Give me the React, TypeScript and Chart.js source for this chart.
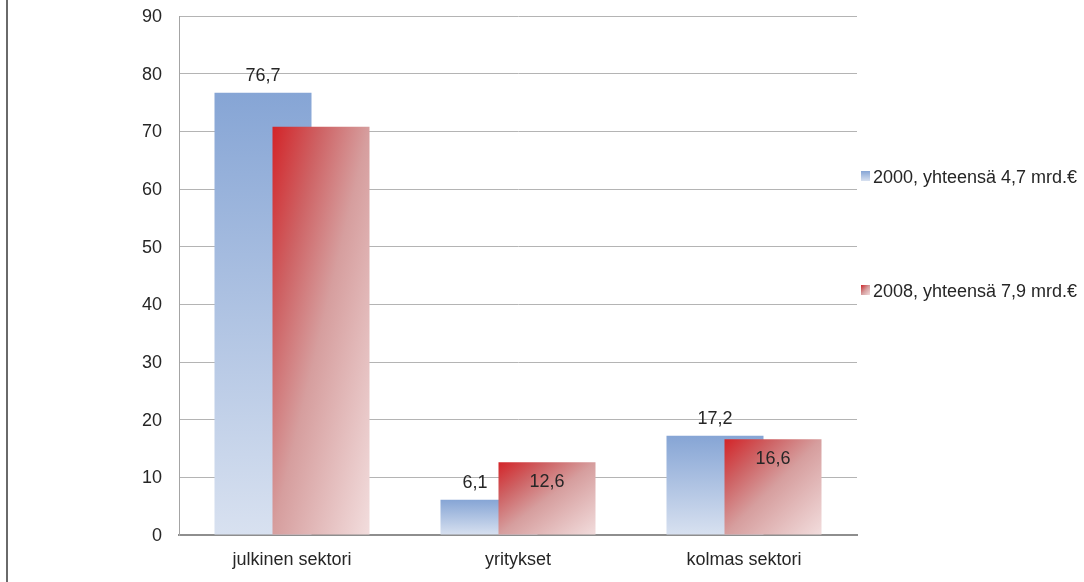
import React, { useEffect, useRef } from "react";
import { Chart, registerables } from "chart.js";

Chart.register(...registerables);

const categories = ["julkinen sektori", "yritykset", "kolmas sektori"];
const seriesNames = ["2000, yhteensä 4,7 mrd.€", "2008, yhteensä 7,9 mrd.€"];
const values2000 = [76.7, 6.1, 17.2];
const values2008 = [70.8, 12.6, 16.6];
const labels2000 = ["76,7", "6,1", "17,2"];
const labels2008 = [null, "12,6", "16,6"];
const yTicks = [0, 10, 20, 30, 40, 50, 60, 70, 80, 90];

const FONT = '"Liberation Sans", Arial, Helvetica, sans-serif';
const TEXT = "#262626";

function blueGradient(c: CanvasRenderingContext2D, top: number, bottom: number) {
  const g = c.createLinearGradient(0, top, 0, bottom);
  g.addColorStop(0, "rgb(134,165,213)");
  g.addColorStop(1, "rgb(216,225,240)");
  return g;
}

function redGradient(c: CanvasRenderingContext2D, x0: number, y0: number, w: number, h: number) {
  const k = (2 * w * h) / (h * h + w * w || 1);
  const g = c.createLinearGradient(x0, y0, x0 + h * k, y0 + w * k);
  g.addColorStop(0, "rgb(211,36,40)");
  g.addColorStop(0.25, "rgb(206,98,100)");
  g.addColorStop(0.5, "rgb(214,158,158)");
  g.addColorStop(1, "rgb(242,221,221)");
  return g;
}

const CAT_PCT = 116 / 226;
const BAR_PCT = 97 / 58;

function barGeom(chart: any, dsIndex: number, dataIndex: number, value: number) {
  const xs = chart.scales.x;
  const ys = chart.scales.y;
  const catW = xs.width / categories.length;
  const slot = (catW * CAT_PCT) / 2;
  const center = xs.getPixelForValue(dataIndex) - slot + slot * dsIndex + slot / 2;
  const w = slot * BAR_PCT;
  const top = ys.getPixelForValue(value);
  const base = ys.getPixelForValue(0);
  return { left: center - w / 2, w, top, base };
}

function fillFor(dsIndex: number) {
  return (ctx: any) => {
    const chart = ctx.chart;
    if (ctx.type !== "data" || !chart.chartArea || !chart.scales.x) {
      return dsIndex === 0 ? "rgb(150,178,220)" : "rgb(215,100,100)";
    }
    const v = ctx.raw as number;
    const g = barGeom(chart, dsIndex, ctx.dataIndex, v);
    if (dsIndex === 0) return blueGradient(chart.ctx, g.top, g.base);
    return redGradient(chart.ctx, g.left, g.top, g.w, g.base - g.top);
  };
}

const reorderPlugin = {
  id: "reorder",
  beforeDatasetDraw(chart: any, args: any) {
    if (args.index === 1) {
      chart.getDatasetMeta(0).controller.draw();
    }
    if (args.index === 0) return false;
    return true;
  },
};

const labelPlugin = {
  id: "valueLabels",
  afterDatasetsDraw(chart: any) {
    const c = chart.ctx as CanvasRenderingContext2D;
    c.save();
    c.font = `18px ${FONT}`;
    c.fillStyle = TEXT;
    c.textAlign = "center";
    c.textBaseline = "middle";
    const blue = chart.getDatasetMeta(0).data;
    const red = chart.getDatasetMeta(1).data;
    blue.forEach((el: any, i: number) => {
      const t = labels2000[i];
      if (!t) return;
      const w = c.measureText(t).width;
      let x = el.x;
      const y = el.y - 17;
      const r = red[i];
      const rLeft = r.x - r.width / 2;
      if (y + 9 > r.y && x + w / 2 > rLeft - 4) {
        x = rLeft - 11 - w / 2;
      }
      c.fillText(t, x, y);
    });
    red.forEach((el: any, i: number) => {
      const t = labels2008[i];
      if (!t) return;
      c.fillText(t, el.x, el.y + 20);
    });
    c.restore();
  },
};

const legendPlugin = {
  id: "sideLegend",
  afterDraw(chart: any) {
    const c = chart.ctx as CanvasRenderingContext2D;
    const x0 = chart.chartArea.right + 4;
    const baselines = [183, 297];
    c.save();
    c.font = `18px ${FONT}`;
    c.fillStyle = TEXT;
    c.textAlign = "left";
    c.textBaseline = "alphabetic";
    seriesNames.forEach((name, i) => {
      const b = baselines[i];
      const top = b - 12;
      if (i === 0) c.fillStyle = blueGradient(c, top, top + 10);
      else c.fillStyle = redGradient(c, x0, top, 9, 10);
      c.fillRect(x0, top, 9, 10);
      c.fillStyle = TEXT;
      c.fillText(name, x0 + 12, b);
    });
    c.restore();
  },
};

export default function App() {
  const ref = useRef<HTMLCanvasElement | null>(null);
  useEffect(() => {
    if (!ref.current) return;
    Chart.defaults.font.family = FONT;
    const chart = new Chart(ref.current, {
      type: "bar",
      data: {
        labels: categories,
        datasets: [
          {
            label: seriesNames[0],
            data: values2000,
            backgroundColor: fillFor(0),
            categoryPercentage: CAT_PCT,
            barPercentage: BAR_PCT,
            borderWidth: 0,
          },
          {
            label: seriesNames[1],
            data: values2008,
            backgroundColor: fillFor(1),
            categoryPercentage: CAT_PCT,
            barPercentage: BAR_PCT,
            borderWidth: 0,
          },
        ],
      },
      options: {
        responsive: false,
        animation: false,
        devicePixelRatio: 1,
        layout: { padding: { left: 0, top: 16, right: 227, bottom: 0 } },
        plugins: { legend: { display: false }, tooltip: { enabled: false } },
        scales: {
          x: {
            grid: { display: false, drawTicks: false },
            border: { display: true, color: "#8e8e8e", width: 2 },
            ticks: { font: { size: 18 }, color: TEXT, padding: 14 },
            afterFit: (s: any) => {
              s.height = 47;
              s.paddingLeft = 0;
              s.paddingRight = 0;
            },
          },
          y: {
            min: 0,
            max: 90,
            afterBuildTicks: (s: any) => {
              s.ticks = yTicks.map((v) => ({ value: v }));
            },
            grid: { color: "#b4b4b4", lineWidth: 1, drawTicks: false },
            border: { display: true, color: "#a4a4a4", width: 1 },
            ticks: { font: { size: 18 }, color: TEXT, padding: 17, labelOffset: 1 },
            afterFit: (s: any) => {
              s.width = 179;
              s.paddingTop = 0;
              s.paddingBottom = 0;
            },
          },
        },
      },
      plugins: [reorderPlugin, labelPlugin, legendPlugin],
    });
    return () => chart.destroy();
  }, []);
  return (
    <div
      style={{
        position: "fixed",
        left: 0,
        top: 0,
        width: 1084,
        height: 582,
        background: "#ffffff",
      }}
    >
      <canvas ref={ref} width={1084} height={582} style={{ display: "block" }} />
      <div
        style={{
          position: "absolute",
          left: 6,
          top: 0,
          width: 2,
          height: 582,
          background: "#6a6a6a",
        }}
      />
    </div>
  );
}
